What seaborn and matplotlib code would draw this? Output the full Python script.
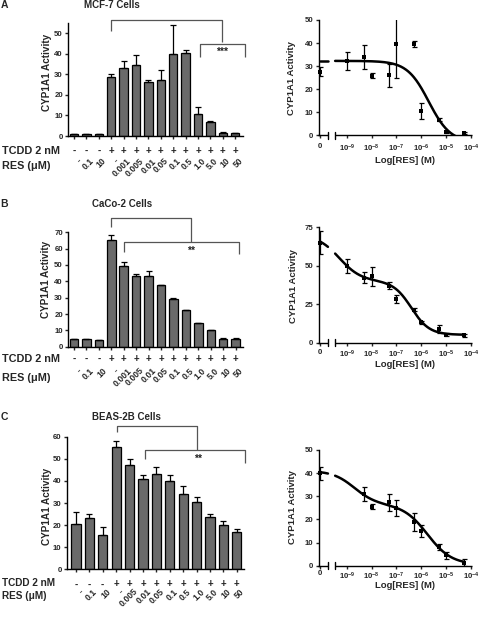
import numpy as np
import pandas as pd
import matplotlib
matplotlib.use("Agg")
import matplotlib.pyplot as plt
from matplotlib import transforms
import seaborn as sns

# ---------------- data ----------------
tcdd_A = ['-', '-', '-'] + ['+'] * 11
res_A = ['-', '0.1', '10', '-', '0.001', '0.005', '0.01', '0.05', '0.1', '0.5', '1.0', '5.0', '10', '50']
bars_A = [1.0, 1.0, 1.0, 28.5, 33.0, 34.5, 26.0, 27.0, 40.0, 40.5, 10.7, 6.8, 1.6, 1.3]
bars_A_err = [0.2, 0.2, 0.2, 1.5, 3.5, 4.8, 1.0, 5.0, 14.0, 1.2, 3.2, 0.6, 0.2, 0.2]

tcdd_B = ['-', '-', '-'] + ['+'] * 11
res_B = ['-', '0.1', '10', '-', '0.001', '0.005', '0.01', '0.05', '0.1', '0.5', '1.0', '5.0', '10', '50']
bars_B = [4.5, 4.5, 4.0, 65.5, 49.5, 43.3, 43.3, 37.5, 29.0, 22.3, 14.2, 10.0, 5.0, 5.0]
bars_B_err = [0.3, 0.3, 0.3, 3.0, 2.2, 1.4, 2.8, 0.5, 0.5, 0.4, 0.5, 0.2, 0.2, 0.2]

tcdd_C = ['-', '-', '-'] + ['+'] * 10
res_C = ['-', '0.1', '10', '-', '0.005', '0.01', '0.05', '0.1', '0.5', '1.0', '5.0', '10', '50']
bars_C = [20.5, 23.0, 15.5, 55.5, 47.0, 41.0, 43.0, 40.0, 34.0, 30.5, 23.5, 20.0, 17.0]
bars_C_err = [5.5, 2.0, 3.8, 2.5, 2.7, 1.8, 3.5, 2.8, 3.5, 2.2, 1.4, 1.7, 1.3]

conc_A = [0, 1e-9, 5e-9, 1e-8, 5e-8, 1e-7, 5e-7, 1e-6, 5e-6, 1e-5, 5e-5]
dr_A = [27.7, 32.3, 34.0, 25.9, 26.1, 39.5, 39.8, 10.5, 6.9, 1.4, 1.1]
dr_A_err = [1.8, 3.8, 5.0, 1.0, 5.0, 14.5, 1.3, 3.4, 0.6, 0.3, 0.3]

conc_B = [0, 1e-9, 5e-9, 1e-8, 5e-8, 1e-7, 5e-7, 1e-6, 5e-6, 1e-5, 5e-5]
dr_B = [65.0, 49.7, 42.3, 43.2, 37.1, 28.3, 21.4, 13.3, 8.7, 5.0, 4.8]
dr_B_err = [7.3, 4.4, 3.5, 6.2, 2.2, 2.4, 1.0, 1.0, 2.7, 1.0, 1.0]

conc_C = [0, 5e-9, 1e-8, 5e-8, 1e-7, 5e-7, 1e-6, 5e-6, 1e-5, 5e-5]
dr_C = [39.9, 31.0, 25.5, 27.4, 24.8, 18.9, 15.1, 7.9, 4.6, 1.3]
dr_C_err = [2.9, 3.2, 1.0, 3.7, 3.4, 3.7, 2.5, 1.3, 1.5, 1.4]

# fitted-curve parameters (top, bottom, fraction site 1, logEC50_1, hill_1, logEC50_2, hill_2)
fit_A = (32.3, -3.0, 0.0, -8.0, 1.0, -5.7, 1.0)
fit_B = (70.0, 5.0, 30.0 / 65.0, -9.3, 1.0, -6.4, 1.2)
fit_C = (41.0, 0.5, 0.358, -8.7, 1.0, -5.75, 0.9)

# ---------------- style ----------------
sns.set_theme(style="ticks")
plt.rcParams['font.family'] = ['Liberation Sans', 'DejaVu Sans']
plt.rcParams['font.weight'] = 'bold'
plt.rcParams['mathtext.fontset'] = 'custom'
plt.rcParams['mathtext.bf'] = 'Liberation Sans:bold'
plt.rcParams['mathtext.rm'] = 'Liberation Sans'
plt.rcParams['axes.linewidth'] = 1.0
plt.rcParams['xtick.major.width'] = 1.0
plt.rcParams['ytick.major.width'] = 1.0
plt.rcParams['xtick.major.size'] = 2.5
plt.rcParams['ytick.major.size'] = 2.5
plt.rcParams['xtick.major.pad'] = 1.5
plt.rcParams['ytick.major.pad'] = 1.2
plt.rcParams['xtick.labelsize'] = 5.6
plt.rcParams['ytick.labelsize'] = 5.6
plt.rcParams['axes.edgecolor'] = 'black'

W, H = 480, 617
fig = plt.figure(figsize=(4.8, 6.17), dpi=100)
BAR = '#6a6a6a'
BRK = '#555555'


def add_ax(x0, x1, ytop, ybot):
    return fig.add_axes([x0 / W, 1 - ybot / H, (x1 - x0) / W, (ybot - ytop) / H])


def ftext(x, y, s, **kw):
    kw.setdefault('fontweight', 'bold')
    fig.text(x / W, 1 - y / H, s, **kw)


def bar_panel(ax, vals, errs, tcdd, res, ylim, yticks, xlim, row_t, lab_y,
              brackets, star, star_xy):
    n = len(vals)
    df = pd.DataFrame({'pos': np.arange(n), 'val': vals})
    sns.barplot(data=df, x='pos', y='val', color=BAR, edgecolor='black', linewidth=0.9,
                width=0.68, saturation=1, errorbar=None, ax=ax)
    ax.errorbar(np.arange(n), vals, yerr=[np.zeros(n), errs], fmt='none', ecolor='black',
                elinewidth=0.9, capsize=2.0, capthick=0.9, zorder=4)
    ax.set_xlim(*xlim)
    ax.set_ylim(*ylim)
    ax.set_yticks(yticks)
    ax.set_xticks(np.arange(n))
    ax.set_xticklabels([])
    ax.set_xlabel('')
    ax.set_ylabel('')
    sns.despine(ax=ax)
    tr = transforms.blended_transform_factory(ax.transData, fig.transFigure)
    for i, s in enumerate(tcdd):
        ax.text(i, 1 - row_t / H, s, transform=tr, ha='center', va='center',
                fontsize=7, fontweight='bold')
    for i, s in enumerate(res):
        ax.text(i + 0.25, 1 - lab_y / H, s, transform=tr, ha='right', va='top',
                rotation=45, rotation_mode='anchor', fontsize=6.2, fontweight='bold')
    for xs, ys in brackets:
        ax.plot(xs, ys, color=BRK, lw=0.9, clip_on=False, solid_capstyle='butt')
    ax.text(star_xy[0], star_xy[1], star, ha='center', va='center', fontsize=7.5,
            fontweight='bold', color='#222222')


XL = (-10.14, -3.96)
CTRL = -10.07
SEG1 = (-10.14, -9.76)
SEG2 = (-9.47, -3.96)


def model(x, p):
    top, bot, f1, c1, h1, c2, h2 = p
    s1 = 1.0 / (1.0 + 10 ** ((x - c1) * h1))
    s2 = 1.0 / (1.0 + 10 ** ((x - c2) * h2))
    return bot + (top - bot) * (f1 * s1 + (1 - f1) * s2)


def dr_panel(ax, conc, vals, errs, fit, ylim, yticks, yticklabels, xpad):
    conc = np.asarray(conc, dtype=float)
    safe = np.where(conc > 0, conc, 1.0)
    xpos = np.where(conc > 0, np.log10(safe), CTRL)
    ax.errorbar(xpos, vals, yerr=errs, fmt='none', ecolor='black', elinewidth=0.9,
                capsize=1.8, capthick=0.9, zorder=3)
    sns.scatterplot(x=xpos, y=vals, marker='s', s=11, color='black', edgecolor='black',
                    linewidth=0, ax=ax, clip_on=False, zorder=4, legend=False)
    xlast = float(np.max(xpos))
    for a, b in [(CTRL, SEG1[1]), (SEG2[0], xlast)]:
        xs = np.linspace(a, b, 200)
        sns.lineplot(x=xs, y=model(xs, fit), color='black', lw=1.8, ax=ax,
                     legend=False, zorder=2)
    ax.set_xlim(*XL)
    ax.set_ylim(*ylim)
    ax.set_yticks(yticks)
    ax.set_yticklabels(yticklabels)
    ax.set_xticks([CTRL, -9, -8, -7, -6, -5, -4])
    ax.set_xticklabels(['0'] + [r'$\mathbf{10^{%d}}$' % k for k in range(-9, -3)])
    ax.tick_params(axis='x', pad=xpad)
    ax.set_xlabel('')
    ax.set_ylabel('')
    for sp in ['top', 'right', 'bottom']:
        ax.spines[sp].set_visible(False)
    tr = transforms.blended_transform_factory(ax.transData, ax.transAxes)
    for a, b in [SEG1, SEG2]:
        ax.plot([a, b], [0, 0], color='black', lw=1.0, transform=tr, clip_on=False,
                solid_capstyle='butt')
    for xb in [SEG1[1], SEG2[0]]:
        ax.plot([xb, xb], [-0.028, 0.028], color='black', lw=1.0, transform=tr,
                clip_on=False)


# ---------------- panel A ----------------
axA = add_ax(68, 243, 22.7, 136)
bar_panel(axA, bars_A, bars_A_err, tcdd_A, res_A, (0, 55), [0, 10, 20, 30, 40, 50],
          (-0.48, 13.63), 151, 156.5,
          [([3, 3, 11.97, 11.97], [51, 56.3, 56.3, 45.5]),
           ([10.16, 10.16, 13.77, 13.77], [38.5, 44.7, 44.7, 38.5])],
          '***', (11.97, 40.8))
axA2 = add_ax(318.5, 472, 20, 135.5)
dr_panel(axA2, conc_A, dr_A, dr_A_err, fit_A, (0, 50), [0, 10, 20, 30, 40, 50],
         ['0', '10', '20', '30', '40', '50'], 3.0)

# ---------------- panel B ----------------
axB = add_ax(68, 243, 232.3, 346.7)
bar_panel(axB, bars_B, bars_B_err, tcdd_B, res_B, (0, 70), list(range(0, 71, 10)),
          (-0.48, 13.59), 359.3, 366.0,
          [([3, 3, 9.38, 9.38], [73.4, 78.9, 78.9, 64.3]),
           ([4.0, 4.0, 13.26, 13.26], [58.1, 64.3, 64.3, 56.5])],
          '**', (9.38, 58.9))
axB2 = add_ax(318.5, 472, 227.3, 342.5)
dr_panel(axB2, conc_B, dr_B, dr_B_err, fit_B, (0, 75), [0, 25, 50, 75],
         ['0', '25', '50', '75'], 2.3)

# ---------------- panel C ----------------
axC = add_ax(66.7, 244, 436.7, 569.3)
bar_panel(axC, bars_C, bars_C_err, tcdd_C, res_C, (0, 60), list(range(0, 61, 10)),
          (-0.69, 12.54), 584.5, 587.0,
          [([3.08, 3.08, 9.0, 9.0], [62.3, 64.7, 64.7, 54.0]),
           ([5.15, 5.15, 12.59, 12.59], [49.9, 54.0, 54.0, 48.0])],
          '**', (9.1, 49.9))
axC2 = add_ax(318.5, 472, 450, 565.7)
dr_panel(axC2, conc_C, dr_C, dr_C_err, fit_C, (0, 50), [0, 10, 20, 30, 40, 50],
         ['0', '10', '20', '30', '40', '50'], 0.8)

# ---------------- texts ----------------
ftext(0.5, 5.5, 'A', ha='left', va='center', fontsize=7.5)
ftext(0.5, 204, 'B', ha='left', va='center', fontsize=7.5)
ftext(0.5, 416.7, 'C', ha='left', va='center', fontsize=7.5)
ftext(112, 5.5, 'MCF-7 Cells', ha='center', va='center', fontsize=7)
ftext(122.3, 204, 'CaCo-2 Cells', ha='center', va='center', fontsize=7)
ftext(126.7, 416.7, 'BEAS-2B Cells', ha='center', va='center', fontsize=7)

for (x, y) in [(46.7, 72.5), (45.7, 279), (46.7, 506.7)]:
    ftext(x, y, 'CYP1A1 Activity', rotation=90, ha='center', va='center', fontsize=7.2)
for (x, y) in [(291.7, 77.8), (293.3, 285.8), (292.3, 507.5)]:
    ftext(x, y, 'CYP1A1 Activity', rotation=90, ha='center', va='center', fontsize=6.8)
for y in [160.7, 364.3, 585.7]:
    ftext(405, y, 'Log[RES] (M)', ha='center', va='center', fontsize=6.8)

for (yt, yr, fs) in [(151, 165.7, 7.8), (359.3, 377.7, 7.8), (583.5, 596.0, 7.2)]:
    ftext(1.5, yt, 'TCDD 2 nM', ha='left', va='center', fontsize=fs)
    ftext(1.5, yr, 'RES (\u03bcM)', ha='left', va='center', fontsize=fs)

fig.savefig('out.png', dpi=100)
